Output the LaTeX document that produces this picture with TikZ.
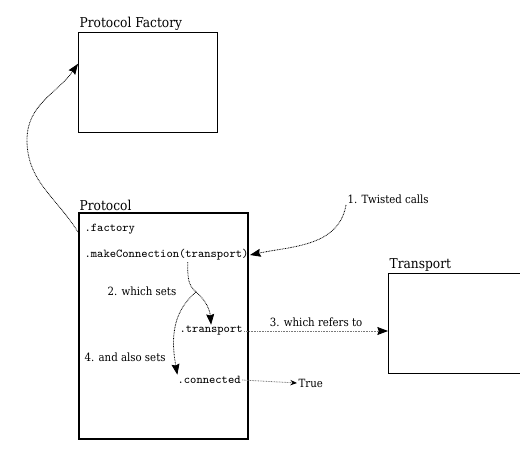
\documentclass[tikz,border=0pt]{standalone}
\usepackage{fontspec}
\setmainfont{DejaVu Serif Condensed}
\usepackage{tikz}
\usetikzlibrary{arrows.meta, positioning, calc}
\usepackage{xcolor}
\definecolor{linkgray}{RGB}{120, 120, 120}
\tikzstyle{box} = [rectangle, draw, line width=0.7pt, anchor=north west, inner sep=0pt]
\tikzstyle{boxtitle} = [anchor=south west, inner sep=1pt, font=\fontsize{10.2}{12}\selectfont]
\tikzstyle{attr} = [anchor=west, inner sep=1pt, font=\ttfamily\small]
\tikzstyle{note} = [inner sep=1pt, font=\fontsize{8.5}{10}\selectfont]
\tikzstyle{arrow} = [line width=0.6pt, dash pattern=on 0.6pt off 0.6pt, -{Stealth[length=8pt,width=6pt,inset=1pt,color=black]}]

\begin{document}
\begin{tikzpicture}[x=0.75pt, y=-0.75pt]
\useasboundingbox (0,0) rectangle (520,453);

% Boxes
\node[box, minimum width=104.25pt, minimum height=75pt] (factory) at (78,32) {};
\node[box, line width=1.3pt, minimum width=126.75pt, minimum height=169.5pt] (protocol) at (78,212) {};
\node[box, minimum width=99pt, minimum height=75pt] (transport) at (388,273) {};

\node[boxtitle] (factorytitle) at (factory.north west) {Protocol Factory};
\node[boxtitle] (protocoltitle) at (protocol.north west) {Protocol};
\node[boxtitle] (transporttitle) at (transport.north west) {Transport};

% Attributes
\node[attr] (factoryattr) at (83,229) {.factory};
\node[attr] (makeconn) at (83,255) {.makeConnection(transport)};
\node[attr] (transportattr) at (178,331) {.transport};
\node[attr] (connattr) at (176,380) {.connected};

% Notes
\node[note, anchor=west] (twisted) at (346,199) {1. Twisted calls};
\node[note, anchor=west] (whichsets) at (106,291) {2. which sets};
\node[note, anchor=west] (alsosets) at (83,357) {4. and also sets};
\node[note, anchor=west] (truevalue) at (297,383) {True};

% Arrows
\coordinate (split) at (196,292);
\coordinate (bend) at (27,140);
\draw[arrow] ([yshift=-15pt]protocol.north west) to[out=122,in=-90] (bend) to[out=90,in=-125] ([yshift=14pt]factory.west);
\draw[arrow] (twisted.south west) to[out=-100,in=12] (makeconn.east);
\draw[line width=0.6pt, dash pattern=on 0.6pt off 0.6pt] ([xshift=16pt]makeconn.south) to[out=-90,in=140] (split);
\draw[arrow] (split) to[out=-40,in=95] (transportattr.north);
\draw[arrow] (split) to[out=-140,in=100] ([xshift=1pt]connattr.north west);
\draw[arrow, linkgray] (transportattr.east) -- node[note, black, above=2pt] {3. which refers to} (transportattr.east -| transport.west);
\draw[arrow, linkgray, -{Stealth[length=5pt,width=4pt,color=black]}] (connattr.east) -- (truevalue.west);
\end{tikzpicture}
\end{document}
